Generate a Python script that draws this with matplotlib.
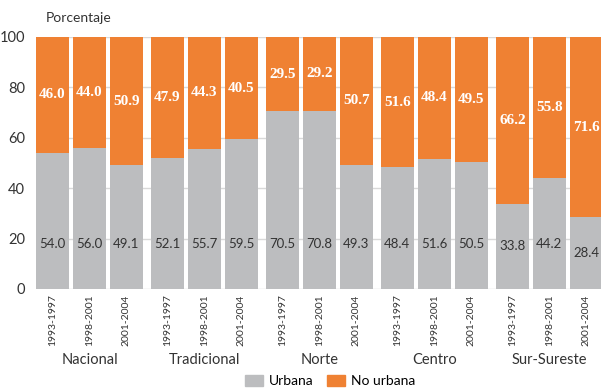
import numpy as np
import matplotlib.pyplot as plt
from matplotlib.patches import Patch

# data
regions = ['Nacional', 'Tradicional', 'Norte', 'Centro', 'Sur-Sureste']
periods = ['1993-1997', '1998-2001', '2001-2004']
urbana = [54.0, 56.0, 49.1, 52.1, 55.7, 59.5, 70.5, 70.8, 49.3,
          48.4, 51.6, 50.5, 33.8, 44.2, 28.4]
no_urbana = [46.0, 44.0, 50.9, 47.9, 44.3, 40.5, 29.5, 29.2, 50.7,
             51.6, 48.4, 49.5, 66.2, 55.8, 71.6]

GRAY = '#BCBDBF'
ORANGE = '#EF8133'
TXT = '#333333'

plt.rcParams['font.family'] = ['Lato', 'DejaVu Sans']

fig = plt.figure(figsize=(6.01, 3.89), dpi=100)
ax = fig.add_axes([36 / 601, 100 / 389, 565 / 601, 252 / 389])

width = 0.89
group_step = 3.108
x = np.array([g * group_step + i for g in range(len(regions)) for i in range(len(periods))])

ax.bar(x, urbana, width, color=GRAY, zorder=2)
ax.bar(x, no_urbana, width, bottom=urbana, color=ORANGE, zorder=2)

for xi, u, n in zip(x, urbana, no_urbana):
    ax.text(xi, u + n / 2, f'{n:.1f}', ha='center', va='center', color='white',
            fontsize=11, fontweight='bold', family='Liberation Serif', zorder=3)
    ax.text(xi, min(u / 2, 18), f'{u:.1f}', ha='center', va='center', color=TXT,
            fontsize=9.5, zorder=3)

ax.set_ylim(0, 100)
ax.set_xlim(-width / 2, -width / 2 + 565 / 37)
ax.set_yticks([0, 20, 40, 60, 80, 100])
ax.yaxis.grid(True, color='#D9D9D9', linewidth=1, zorder=0)
ax.set_axisbelow(True)
for s in ax.spines.values():
    s.set_visible(False)
ax.tick_params(axis='y', length=0, labelsize=10.5, labelcolor=TXT, pad=8)
ax.set_xticks(x)
ax.set_xticklabels(periods * len(regions), rotation=90, fontsize=7.5, color=TXT)
ax.tick_params(axis='x', length=0, pad=4)

trans = ax.get_xaxis_transform()
for g, name in enumerate(regions):
    ax.text(g * group_step + 1, -0.28, name, transform=trans, ha='center', va='center',
            fontsize=10.5, color=TXT)

ax.text(10 / 565, 1.075, 'Porcentaje', transform=ax.transAxes, ha='left', va='center',
        fontsize=10, color=TXT)

handles = [Patch(color=GRAY, label='Urbana'), Patch(color=ORANGE, label='No urbana')]
fig.legend(handles=handles, loc='center', bbox_to_anchor=(330 / 601, 8 / 389), ncol=2,
           frameon=False, fontsize=10, handlelength=1.3, handleheight=0.8,
           handletextpad=0.4, columnspacing=1.0, borderaxespad=0)

fig.savefig('out.png', dpi=100)
